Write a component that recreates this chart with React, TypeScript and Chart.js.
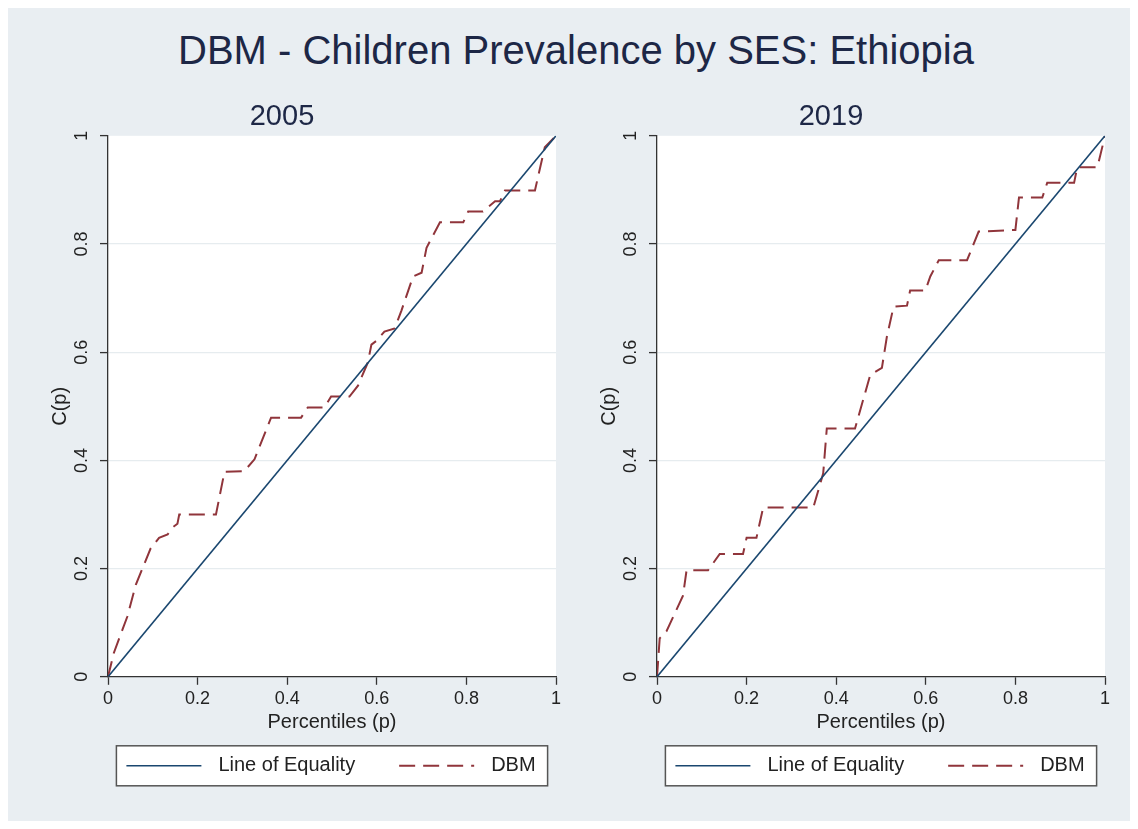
import React, { useEffect, useRef } from "react";
import { Chart, registerables } from "chart.js";

Chart.register(...registerables);

const FONT = '"Liberation Sans", Arial, Helvetica, sans-serif';
Chart.defaults.font.family = FONT;

// ---------- data ----------
const mainTitle = "DBM - Children Prevalence by SES: Ethiopia";
const panelTitles = ["2005", "2019"];
const xTickLabels = ["0", "0.2", "0.4", "0.6", "0.8", "1"];
const yTickLabels = ["0", "0.2", "0.4", "0.6", "0.8", "1"];
const xAxisTitle = "Percentiles (p)";
const yAxisTitle = "C(p)";
const seriesNames = ["Line of Equality", "DBM"];

const equalityP = [0, 1];
const equalityC = [0, 1];

const dbm2005P = [
  0, 0.013, 0.043, 0.062, 0.095, 0.114, 0.133, 0.144, 0.155, 0.159, 0.241,
  0.26, 0.304, 0.327, 0.364, 0.431, 0.446, 0.483, 0.498, 0.539, 0.558, 0.58,
  0.588, 0.599, 0.617, 0.64, 0.655, 0.681, 0.7, 0.711, 0.741, 0.793, 0.804,
  0.837, 0.864, 0.875, 0.886, 0.953, 0.975, 1,
];
const dbm2005C = [
  0, 0.044, 0.111, 0.17, 0.237, 0.257, 0.263, 0.276, 0.283, 0.3, 0.3, 0.379,
  0.38, 0.402, 0.479, 0.479, 0.498, 0.498, 0.518, 0.518, 0.538, 0.581, 0.614,
  0.621, 0.638, 0.644, 0.677, 0.74, 0.747, 0.793, 0.84, 0.84, 0.86, 0.86,
  0.879, 0.879, 0.899, 0.899, 0.979, 1,
];

const dbm2019P = [
  0, 0.006, 0.021, 0.058, 0.066, 0.114, 0.14, 0.192, 0.2, 0.222, 0.237, 0.349,
  0.371, 0.379, 0.442, 0.476, 0.502, 0.513, 0.528, 0.558, 0.565, 0.599, 0.61,
  0.629, 0.692, 0.718, 0.8, 0.808, 0.86, 0.871, 0.931, 0.938, 0.983, 1,
];
const dbm2019C = [
  0, 0.071, 0.084, 0.15, 0.197, 0.197, 0.227, 0.227, 0.257, 0.257, 0.313,
  0.313, 0.376, 0.459, 0.459, 0.558, 0.571, 0.628, 0.684, 0.686, 0.714, 0.714,
  0.74, 0.77, 0.77, 0.823, 0.826, 0.886, 0.886, 0.913, 0.913, 0.942, 0.942, 1,
];

// ---------- styles ----------
const BG = "#e9eef2";
const TITLE_COLOR = "#1d2746";
const NAVY = "#1a476f";
const MAROON = "#90353b";
const AXIS = "#333333";
const TEXT = "#222222";
const GRID = "#e6ecef";

const plotBg = {
  id: "plotBg",
  beforeDraw(chart: any) {
    const { ctx, chartArea } = chart;
    ctx.save();
    ctx.fillStyle = "#ffffff";
    ctx.fillRect(
      chartArea.left,
      chartArea.top,
      chartArea.right - chartArea.left,
      chartArea.bottom - chartArea.top
    );
    ctx.restore();
  },
};

const boxLegend = {
  id: "boxLegend",
  afterDraw(chart: any) {
    const { ctx, chartArea } = chart;
    const ds = chart.data.datasets;
    ctx.save();
    ctx.font = `20px ${FONT}`;
    const sample = 75,
      padL = 10,
      padR = 12,
      gapText = 17,
      gapItem = 44,
      h = 40;
    const widths = ds.map((d: any) => ctx.measureText(d.label).width);
    const total =
      padL +
      padR +
      ds.length * (sample + gapText) +
      widths.reduce((a: number, b: number) => a + b, 0) +
      gapItem * (ds.length - 1);
    const cx = (chartArea.left + chartArea.right) / 2;
    const x0 = cx - total / 2;
    const top = chartArea.bottom + 69;
    ctx.fillStyle = "#ffffff";
    ctx.fillRect(x0, top, total, h);
    ctx.strokeStyle = "#555555";
    ctx.lineWidth = 1.5;
    ctx.strokeRect(x0, top, total, h);
    const cy = top + h / 2;
    let x = x0 + padL;
    ds.forEach((d: any, i: number) => {
      ctx.beginPath();
      ctx.setLineDash(d.borderDash || []);
      ctx.strokeStyle = d.borderColor;
      ctx.lineWidth = d.borderWidth;
      ctx.moveTo(x, cy);
      ctx.lineTo(x + sample, cy);
      ctx.stroke();
      ctx.setLineDash([]);
      x += sample + gapText;
      ctx.fillStyle = TEXT;
      ctx.textBaseline = "middle";
      ctx.textAlign = "left";
      ctx.fillText(d.label, x, cy);
      x += widths[i] + gapItem;
    });
    ctx.restore();
  },
};

const CW = 561;
const CH = 740;

function Panel({ title, p, c, left }: { title: string; p: number[]; c: number[]; left: number }) {
  const ref = useRef<HTMLCanvasElement>(null);
  useEffect(() => {
    const chart = new Chart(ref.current as HTMLCanvasElement, {
      type: "line",
      data: {
        datasets: [
          {
            label: seriesNames[0],
            data: equalityP.map((x, i) => ({ x, y: equalityC[i] })),
            borderColor: NAVY,
            borderWidth: 1.6,
            borderDash: [],
            pointRadius: 0,
            tension: 0,
          },
          {
            label: seriesNames[1],
            data: p.map((x, i) => ({ x, y: c[i] })),
            borderColor: MAROON,
            borderWidth: 2,
            borderDash: [16, 8],
            pointRadius: 0,
            tension: 0,
          },
        ],
      },
      options: {
        responsive: false,
        animation: false,
        events: [],
        layout: { padding: { left: 0, right: 13, top: 0, bottom: 85.2 } },
        plugins: {
          legend: { display: false },
          tooltip: { enabled: false },
          title: {
            display: true,
            text: title,
            color: TITLE_COLOR,
            font: { size: 29, weight: "normal" },
            padding: { top: 20, bottom: 1 },
          },
        },
        scales: {
          x: {
            type: "linear",
            position: "bottom",
            min: 0,
            max: 1,
            afterFit: (s: any) => {
              s.height = 58;
            },
            ticks: {
              stepSize: 0.2,
              color: TEXT,
              font: { size: 18 },
              padding: 3,
              maxRotation: 0,
              minRotation: 0,
              callback: (_v: any, i: number) => xTickLabels[i],
            },
            grid: {
              drawOnChartArea: false,
              drawTicks: true,
              tickLength: 8,
              tickColor: AXIS,
              tickWidth: 1.3,
            },
            border: { display: true, color: AXIS, width: 1.3 },
            title: {
              display: true,
              text: xAxisTitle,
              color: TEXT,
              font: { size: 20 },
              padding: { top: 0, bottom: 0 },
            },
          },
          y: {
            type: "linear",
            min: 0,
            max: 1,
            afterFit: (s: any) => {
              s.width = 100;
            },
            ticks: {
              stepSize: 0.2,
              color: TEXT,
              font: { size: 18 },
              padding: 5,
              minRotation: 90,
              maxRotation: 90,
              crossAlign: "center",
              callback: (_v: any, i: number) => yTickLabels[i],
            },
            grid: {
              color: (ctx: any) =>
                ctx.tick && (ctx.tick.value === 0 || ctx.tick.value === 1)
                  ? "rgba(0,0,0,0)"
                  : GRID,
              lineWidth: 1.2,
              drawTicks: true,
              tickLength: 8,
              tickColor: AXIS,
              tickWidth: 1.3,
            },
            border: { display: true, color: AXIS, width: 1.3 },
            title: {
              display: true,
              text: yAxisTitle,
              color: TEXT,
              font: { size: 20 },
              padding: { top: 40, bottom: 0 },
            },
          },
        },
      } as any,
      plugins: [plotBg, boxLegend],
    });
    return () => chart.destroy();
  }, [title, p, c]);
  return (
    <canvas
      ref={ref}
      width={CW}
      height={CH}
      style={{ position: "absolute", left, top: 72, width: CW, height: CH }}
    />
  );
}

export default function App() {
  return (
    <div
      style={{
        position: "relative",
        width: 1122,
        height: 813,
        background: BG,
        overflow: "hidden",
      }}
    >
      <div
        style={{
          position: "absolute",
          left: 68,
          width: 1000,
          top: 22,
          textAlign: "center",
          whiteSpace: "nowrap",
          fontFamily: FONT,
          fontSize: 40,
          lineHeight: "40px",
          color: TITLE_COLOR,
        }}
      >
        {mainTitle}
      </div>
      <Panel title={panelTitles[0]} p={dbm2005P} c={dbm2005C} left={0} />
      <Panel title={panelTitles[1]} p={dbm2019P} c={dbm2019C} left={549} />
    </div>
  );
}
